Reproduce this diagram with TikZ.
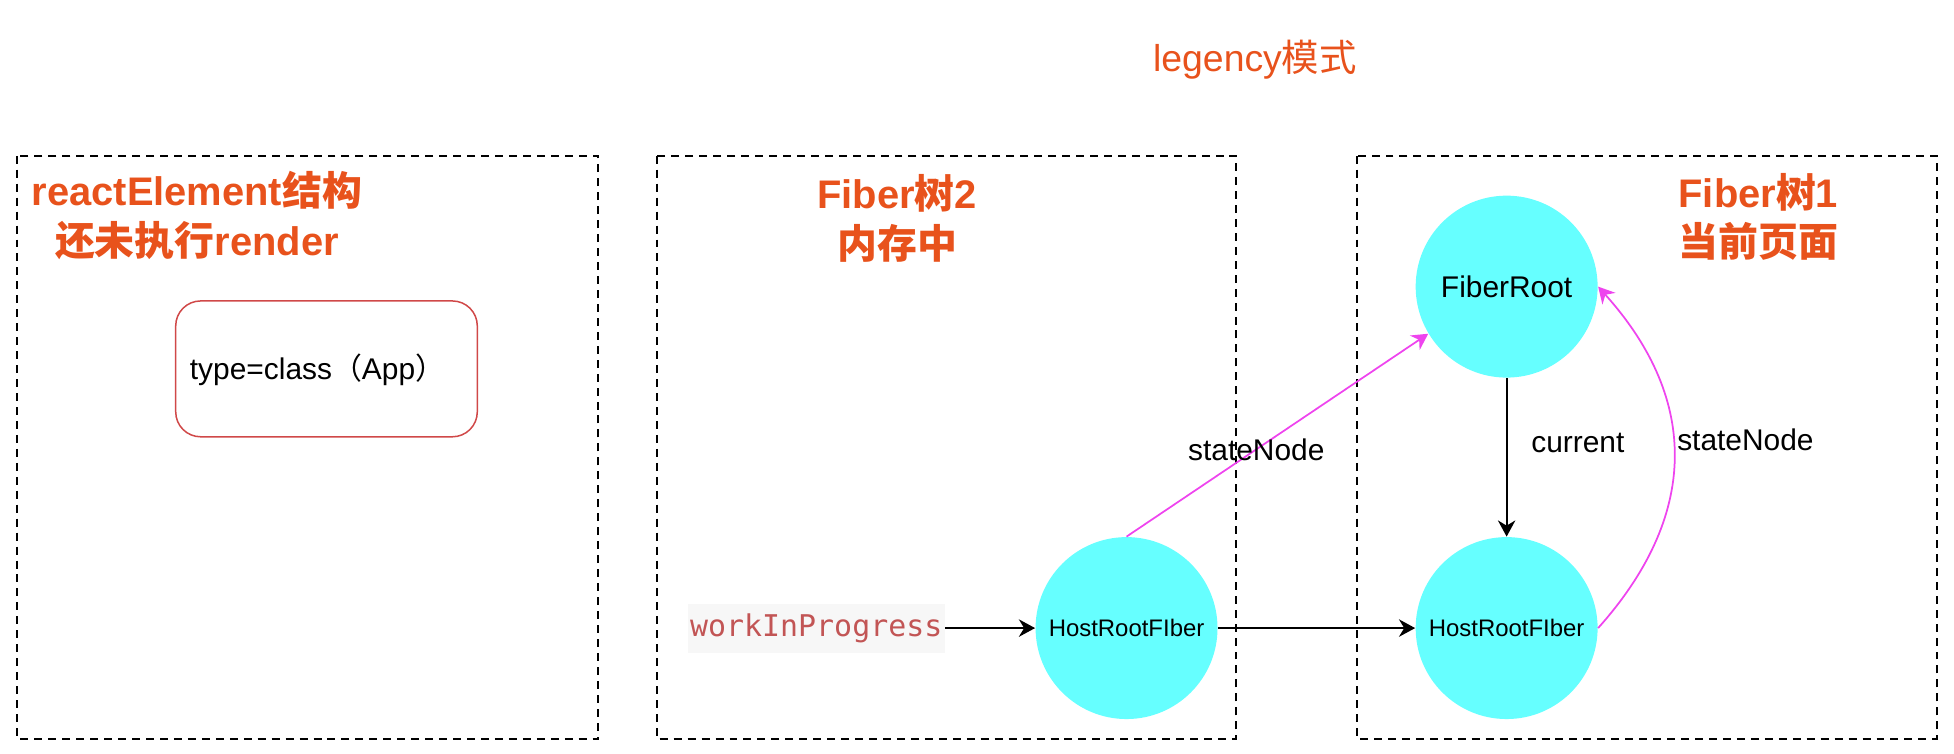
\documentclass[tikz,border=0pt]{standalone}
\usepackage{fontspec}
\setmainfont{Liberation Sans}
\setmonofont{DejaVu Sans Mono}
\newfontfamily\cjk{Noto Sans CJK SC}
\usetikzlibrary{arrows.meta}
\definecolor{ttl}{HTML}{E8521C}
\definecolor{cyanf}{HTML}{66FFFF}
\definecolor{mag}{HTML}{EE44EE}
\definecolor{wip}{HTML}{C25555}
\definecolor{wipbg}{HTML}{F7F7F7}
\definecolor{rrect}{HTML}{D04848}
\begin{document}
\begin{tikzpicture}[x=0.5pt,y=-0.5pt,
  frame/.style={draw=black, dash pattern=on 3.2pt off 2.4pt, line width=0.8pt},
  title/.style={text=ttl, font=\fontsize{16}{20}\selectfont\bfseries, align=center, inner sep=0pt},
  fib/.style={circle, fill=cyanf, minimum size=73pt, inner sep=0pt},
  lbl/.style={font=\fontsize{12}{14}\selectfont, inner sep=0pt},
  arr/.style={-{Stealth[length=6.5pt,width=7pt]}, line width=0.8pt},
  marr/.style={draw=mag, line width=0.7pt, -{Stealth[length=6.5pt,width=7pt]}},
]
\useasboundingbox (0,0) rectangle (1568,605);

% frames
\draw[frame] (14,125) rectangle (480,593);
\draw[frame] (527,125) rectangle (992,593);
\draw[frame] (1089,125) rectangle (1554,593);

% titles
\node[lbl, text=ttl, font=\fontsize{15}{18}\selectfont] (mode) at (1007,48) {legency{\cjk 模式}};
\node[title] (t1) at (158,173) {reactElement{\cjk 结构}\\{\cjk 还未执行}render};
\node[title] (t2) at (720,175) {Fiber{\cjk 树}2\\{\cjk 内存中}};
\node[title] (t3) at (1411,174) {Fiber{\cjk 树}1\\{\cjk 当前页面}};

% react element
\node[draw=rrect, rounded corners=10pt, minimum width=121pt, minimum height=54.5pt, line width=0.6pt] (app) at (262,296) {};
\node[lbl, anchor=west] (applbl) at (152,297) {type=class{\cjk （}App{\cjk ）}};

% fibers
\node[fib, font=\fontsize{12}{14}\selectfont] (fr) at (1209,230) {FiberRoot};
\node[fib, font=\fontsize{9.6}{12}\selectfont] (hr) at (1209,504) {HostRootFIber};
\node[fib, font=\fontsize{9.6}{12}\selectfont] (hl) at (904,504) {HostRootFIber};

\node[fill=wipbg, text=wip, font=\ttfamily\fontsize{12}{14}\selectfont, inner xsep=1pt, inner ysep=4pt] (wip) at (655,504) {workInProgress};

% connectors
\draw[arr] (wip.east) -- (hl.west);
\draw[arr] (hl.east) -- (hr.west);
\draw[arr] (fr.south) -- node[lbl, anchor=west, xshift=9.5pt, pos=0.41] (curlbl) {current} (hr.north);
\draw[marr] (hl.north) -- node[lbl, pos=0.43] (sn1) {stateNode} (fr.211);
\draw[marr] (hr.east) .. controls (1362,415) and (1365,322) .. node[lbl, anchor=west, pos=0.5, xshift=1pt, yshift=7.5pt] (sn2) {stateNode} (fr.east);
\end{tikzpicture}
\end{document}
